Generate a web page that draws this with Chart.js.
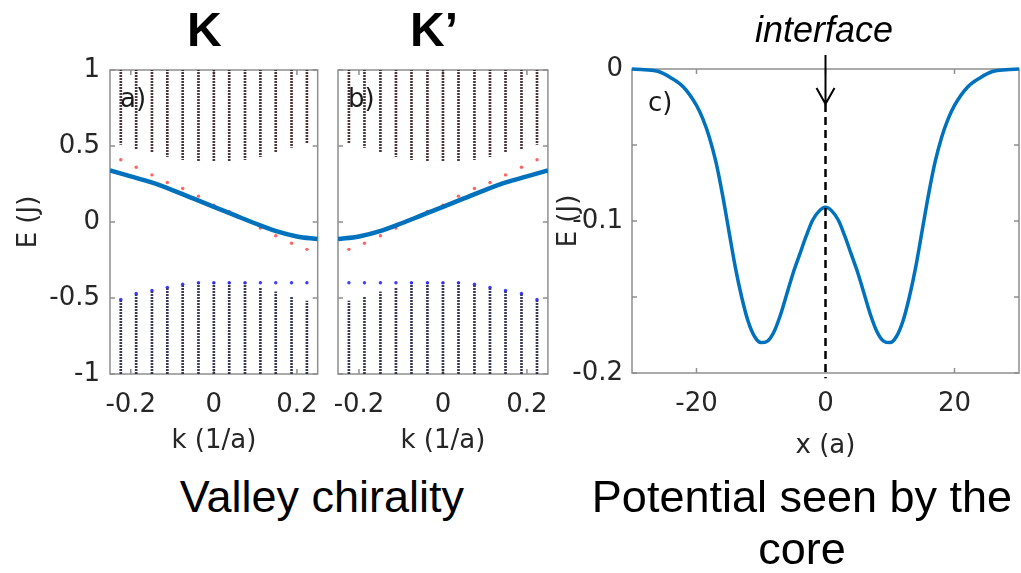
<!DOCTYPE html>
<html>
<head>
<meta charset="utf-8">
<script src="https://cdn.jsdelivr.net/npm/chart.js@4.4.1/dist/chart.umd.min.js"></script>
<style>
  body { margin: 0; background: #fff; }
  #page { position: relative; width: 1021px; height: 573px; overflow: hidden; font-family: "Liberation Sans", Arial, sans-serif; }
  .panel { position: absolute; top: 0; height: 470px; }
  .lbl { position: absolute; line-height: 1; white-space: nowrap; color: #000; }
  .tag { position: absolute; line-height: 1; font-family: "DejaVu Sans", sans-serif; font-size: 26px; color: #1a1a1a; }
  .cap { position: absolute; font-size: 45px; line-height: 52px; text-align: center; color: #000; }
</style>
</head>
<body>
<div id="page">
  <div class="panel" style="left:0;width:334px"><canvas id="chartA"></canvas></div>
  <div class="panel" style="left:310px;width:254px"><canvas id="chartB"></canvas></div>
  <div class="panel" style="left:550px;width:471px"><canvas id="chartC"></canvas></div>

  <div class="lbl" style="left:187px;top:6px;font-size:48px;font-weight:bold">K</div>
  <div class="lbl" style="left:410px;top:6px;font-size:48px;font-weight:bold">K’</div>
  <div class="lbl" style="left:755px;top:12px;font-size:36px;font-style:italic">interface</div>
  <div class="tag" style="left:120px;top:85px">a)</div>
  <div class="tag" style="left:348px;top:85px">b)</div>
  <div class="tag" style="left:648px;top:89px">c)</div>

  <div class="cap" style="left:100px;top:471px;width:444px">Valley chirality</div>
  <div class="cap" style="left:582px;top:471px;width:440px">Potential seen by the<br>core</div>
</div>

<script>
// k of the computed columns (1/a)
const kCols = [-0.224, -0.187, -0.149, -0.112, -0.075, -0.037, 0, 0.037, 0.075, 0.112, 0.149, 0.187, 0.224];
const eRange = [-1, 1];

// a) K valley
const aUpperEdge = [0.51, 0.48, 0.46, 0.43, 0.41, 0.40, 0.40, 0.40, 0.41, 0.43, 0.46, 0.49, 0.52];
const aLowerEdge = [-0.51, -0.47, -0.45, -0.43, -0.41, -0.40, -0.40, -0.40, -0.40, -0.435, -0.46, -0.49, -0.52];
const aRed = [0.41, 0.36, 0.31, 0.26, 0.22, 0.17, 0.11, 0.07, 0.02, -0.04, -0.09, -0.14, -0.18];
const aBlue = [-0.51, -0.47, -0.45, -0.43, -0.41, -0.40, -0.40, -0.40, -0.40, -0.40, -0.40, -0.40, -0.40];

// b) K' valley
const bUpperEdge = [0.52, 0.49, 0.46, 0.43, 0.41, 0.40, 0.40, 0.40, 0.41, 0.43, 0.46, 0.48, 0.51];
const bLowerEdge = [-0.52, -0.49, -0.46, -0.435, -0.40, -0.40, -0.40, -0.40, -0.41, -0.43, -0.45, -0.47, -0.51];
const bRed = [-0.18, -0.14, -0.09, -0.04, 0.02, 0.07, 0.11, 0.17, 0.22, 0.26, 0.31, 0.36, 0.41];
const bBlue = [-0.40, -0.40, -0.40, -0.40, -0.40, -0.40, -0.40, -0.40, -0.41, -0.43, -0.45, -0.47, -0.51];

// thick blue curves
const kLine = [-0.25, -0.2, -0.15, -0.1, -0.05, 0, 0.05, 0.1, 0.15, 0.2, 0.25];
const aLine = [0.34, 0.30, 0.26, 0.21, 0.155, 0.10, 0.045, -0.01, -0.06, -0.095, -0.112];
const bLine = [-0.112, -0.095, -0.06, -0.01, 0.045, 0.10, 0.155, 0.21, 0.26, 0.30, 0.34];

// c) potential
const xPot = [-30, -28, -26, -24, -22, -20, -19, -18, -17, -16, -15, -14, -13, -12, -11, -10, -9, -8, -7, -6, -5, -4, -3, -2, -1,
  0, 1, 2, 3, 4, 5, 6, 7, 8, 9, 10, 11, 12, 13, 14, 15, 16, 17, 18, 19, 20, 22, 24, 26, 28, 30];
const ePot = [0, -0.0005, -0.0015, -0.0057, -0.012, -0.024, -0.033, -0.045, -0.061, -0.082, -0.106, -0.130, -0.150, -0.166, -0.176, -0.180, -0.179, -0.173, -0.162, -0.148, -0.134, -0.122, -0.110, -0.0995, -0.0935,
  -0.091, -0.0935, -0.0995, -0.110, -0.122, -0.134, -0.148, -0.162, -0.173, -0.179, -0.180, -0.176, -0.166, -0.150, -0.130, -0.106, -0.082, -0.061, -0.045, -0.033, -0.024, -0.012, -0.0057, -0.0015, -0.0005, 0];
const interfaceX = 0;
const interfaceSpan = [-0.023, -0.2035];

// ticks
const kTicks = [-0.2, 0, 0.2];
const kTickLabels = ['-0.2', '0', '0.2'];
const eTicks = [-1, -0.5, 0, 0.5, 1];
const eTickLabels = ['-1', '-0.5', '0', '0.5', '1'];
const xTicks = [-20, 0, 20];
const xTickLabels = ['-20', '0', '20'];
const vTicks = [-0.2, -0.15, -0.1, -0.05, 0];
const vTickLabels = ['-0.2', '', '-0.1', '', '0'];

Chart.defaults.font.family = '"DejaVu Sans", sans-serif';
Chart.defaults.color = '#262626';
const axisFont = { size: 26 };

function dotFill(color) {
  const c = document.createElement('canvas');
  c.width = 1; c.height = 3;
  const g = c.getContext('2d');
  g.fillStyle = color;
  g.fillRect(0, 0, 1, 2);
  return g.createPattern(c, 'repeat');
}

// matlab style box with inward ticks
const frame = {
  id: 'frame',
  beforeDatasetsDraw(chart) {
    const {ctx, chartArea: a, scales: {x, y}} = chart;
    ctx.save();
    ctx.strokeStyle = '#8f8f8f';
    ctx.lineWidth = 1.5;
    ctx.strokeRect(a.left, a.top, a.right - a.left, a.bottom - a.top);
    ctx.beginPath();
    x.ticks.forEach(t => {
      const p = x.getPixelForValue(t.value);
      ctx.moveTo(p, a.bottom); ctx.lineTo(p, a.bottom - 5);
      ctx.moveTo(p, a.top); ctx.lineTo(p, a.top + 5);
    });
    y.ticks.forEach(t => {
      const p = y.getPixelForValue(t.value);
      ctx.moveTo(a.left, p); ctx.lineTo(a.left + 5, p);
      ctx.moveTo(a.right, p); ctx.lineTo(a.right - 5, p);
    });
    ctx.stroke();
    ctx.restore();
  }
};

const arrow = {
  id: 'arrow',
  afterDatasetsDraw(chart) {
    const {ctx, chartArea: a, scales: {x, y}} = chart;
    const px = x.getPixelForValue(interfaceX);
    const tip = y.getPixelForValue(interfaceSpan[0]);
    ctx.save();
    ctx.strokeStyle = '#000';
    ctx.lineWidth = 2;
    ctx.beginPath();
    ctx.moveTo(px, a.top - 14); ctx.lineTo(px, tip);
    ctx.moveTo(px - 9, tip - 16); ctx.lineTo(px, tip); ctx.lineTo(px + 9, tip - 16);
    ctx.stroke();
    ctx.restore();
  }
};

const pts = (xs, ys) => xs.map((v, i) => ({x: v, y: ys[i]}));

function bandPanel(id, upper, lower, red, blue, line, yAxis, pad) {
  return new Chart(document.getElementById(id), {
    type: 'scatter',
    data: {
      datasets: [
        { type: 'line', data: pts(kLine, line), borderColor: '#0072bd', borderWidth: 4.5,
          pointRadius: 0, cubicInterpolationMode: 'monotone', order: 0 },
        { data: pts(kCols, red), backgroundColor: 'rgba(255,70,70,0.85)', pointRadius: 1.7, borderWidth: 0, order: 1 },
        { data: pts(kCols, blue), backgroundColor: 'rgba(40,40,255,0.9)', pointRadius: 1.7, borderWidth: 0, order: 1 },
        { type: 'bar', data: kCols.map((k, i) => ({x: k, y: [upper[i], eRange[1]]})),
          backgroundColor: dotFill('rgba(60,30,35,0.9)'), barThickness: 2, grouped: false, order: 2 },
        { type: 'bar', data: kCols.map((k, i) => ({x: k, y: [eRange[0], lower[i]]})),
          backgroundColor: dotFill('rgba(35,35,70,0.9)'), barThickness: 2, grouped: false, order: 2 }
      ]
    },
    options: {
      animation: false,
      maintainAspectRatio: false,
      events: [],
      layout: { padding: pad },
      plugins: { legend: { display: false }, tooltip: { enabled: false } },
      scales: {
        x: {
          type: 'linear', min: -0.25, max: 0.25, offset: false,
          grid: { display: false, drawTicks: false }, border: { display: false },
          afterBuildTicks: s => { s.ticks = kTicks.map(v => ({value: v})); },
          afterFit: s => { s.height = 96; },
          ticks: { font: axisFont, padding: 16, maxRotation: 0, callback: (v, i) => kTickLabels[i] },
          title: { display: true, text: 'k (1/a)', font: axisFont, color: '#262626', padding: { top: 0, bottom: 13 } }
        },
        y: Object.assign({
          type: 'linear', min: eRange[0], max: eRange[1], beginAtZero: false,
          grid: { display: false, drawTicks: false }, border: { display: false },
          afterBuildTicks: s => { s.ticks = eTicks.map(v => ({value: v})); }
        }, yAxis)
      }
    },
    plugins: [frame]
  });
}

bandPanel('chartA', aUpperEdge, aLowerEdge, aRed, aBlue, aLine, {
  afterFit: s => { s.width = 110; },
  ticks: { font: axisFont, padding: 10, callback: (v, i) => eTickLabels[i] },
  title: { display: true, text: 'E (J)', font: axisFont, color: '#262626', padding: { top: 14, bottom: 0 } }
}, { top: 70, right: 0, left: 0, bottom: 0 });

bandPanel('chartB', bUpperEdge, bLowerEdge, bRed, bBlue, bLine, {
  afterFit: s => { s.width = 28; },
  ticks: { display: false }
}, { top: 70, right: 0, left: 0, bottom: 0 });

new Chart(document.getElementById('chartC'), {
  type: 'scatter',
  data: {
    datasets: [
      { type: 'line', data: [{x: interfaceX, y: interfaceSpan[0]}, {x: interfaceX, y: interfaceSpan[1]}],
        borderColor: '#000', borderWidth: 2.5, borderDash: [8, 5], pointRadius: 0, clip: false, order: 0 },
      { type: 'line', data: pts(xPot, ePot), borderColor: '#0072bd', borderWidth: 3.5,
        pointRadius: 0, cubicInterpolationMode: 'monotone', clip: false, order: 1 }
    ]
  },
  options: {
    animation: false,
    maintainAspectRatio: false,
    events: [],
    layout: { padding: { top: 69, right: 2, left: 0, bottom: 0 } },
    plugins: { legend: { display: false }, tooltip: { enabled: false } },
    scales: {
      x: {
        type: 'linear', min: -30, max: 30, offset: false,
        grid: { display: false, drawTicks: false }, border: { display: false },
        afterBuildTicks: s => { s.ticks = xTicks.map(v => ({value: v})); },
        afterFit: s => { s.height = 97; },
        ticks: { font: axisFont, padding: 16, maxRotation: 0, callback: (v, i) => xTickLabels[i] },
        title: { display: true, text: 'x (a)', font: axisFont, color: '#262626', padding: { top: 0, bottom: 8 } }
      },
      y: {
        type: 'linear', min: -0.2, max: 0, beginAtZero: false,
        grid: { display: false, drawTicks: false }, border: { display: false },
        afterBuildTicks: s => { s.ticks = vTicks.map(v => ({value: v})); },
        afterFit: s => { s.width = 82; },
        ticks: { font: axisFont, padding: 9, callback: (v, i) => vTickLabels[i] },
        title: { display: true, text: 'E (J)', font: axisFont, color: '#262626', padding: { top: 4, bottom: 0 } }
      }
    }
  },
  plugins: [frame, arrow]
});
</script>
</body>
</html>
